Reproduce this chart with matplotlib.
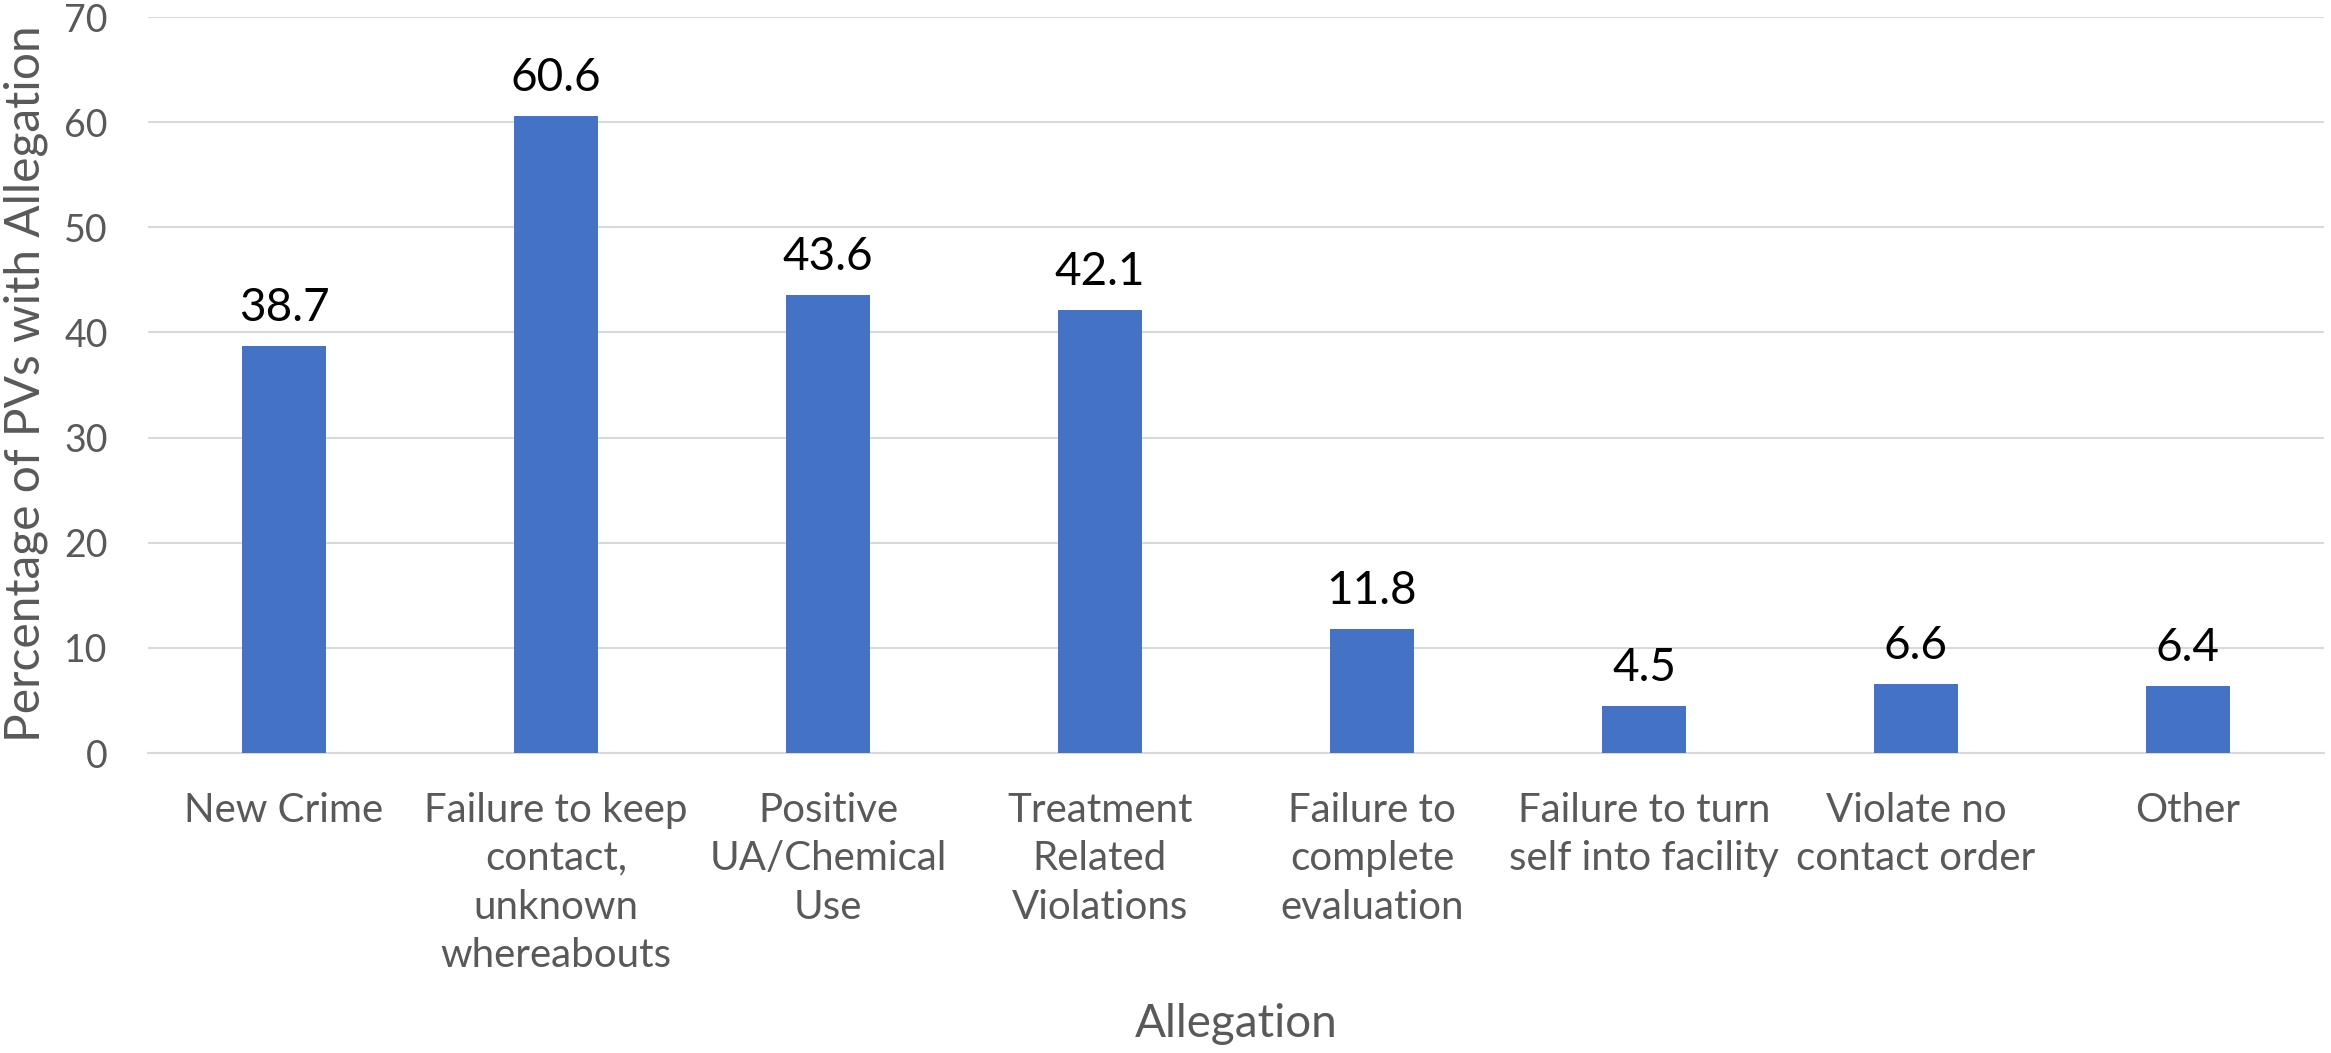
import matplotlib
matplotlib.use("Agg")
import matplotlib.pyplot as plt

categories = ["New Crime", "Failure to keep\ncontact,\nunknown\nwhereabouts",
              "Positive\nUA/Chemical\nUse", "Treatment\nRelated\nViolations",
              "Failure to\ncomplete\nevaluation", "Failure to turn\nself into facility",
              "Violate no\ncontact order", "Other"]
values = [38.7, 60.6, 43.6, 42.1, 11.8, 4.5, 6.6, 6.4]
yticks = [0, 10, 20, 30, 40, 50, 60, 70]

plt.rcParams['font.family'] = ['Lato', 'DejaVu Sans']
gray = "#595959"

W, H = 2331, 1053
fig = plt.figure(figsize=(W / 100, H / 100), dpi=100)
ax_left, ax_right, ax_top, ax_bottom = 148, 2324, 17, 753
ax = fig.add_axes([ax_left / W, 1 - ax_bottom / H, (ax_right - ax_left) / W,
                   (ax_bottom - ax_top) / H])
x = list(range(len(categories)))
ax.bar(x, values, width=0.31, color="#4472C4", zorder=3)
for xi, v in zip(x, values):
    ax.annotate(f"{v}", (xi, v), xytext=(0, 18), textcoords="offset points",
                ha="center", va="baseline", fontsize=33, color="black")
ax.set_xlim(-0.5, len(categories) - 0.5)
ax.set_ylim(0, 70)
ax.set_yticks(yticks)
ax.set_yticklabels([str(t) for t in yticks], fontsize=27, color=gray)
ax.set_xticks(x)
ax.set_xticklabels(categories, fontsize=29, color=gray, linespacing=1.38)
ax.tick_params(axis='both', length=0)
ax.tick_params(axis='x', pad=28)
ax.tick_params(axis='y', pad=29)
ax.grid(axis='y', color="#D9D9D9", linewidth=1.5, zorder=0)
for s in ["top", "right", "left"]:
    ax.spines[s].set_visible(False)
ax.spines["bottom"].set_color("#D9D9D9")
ax.spines["bottom"].set_linewidth(1.5)
fig.text(26 / W, 1 - 384 / H, "Percentage of PVs with Allegation", fontsize=34.5,
         color=gray, rotation=90, ha="center", va="center")
fig.text((ax_left + ax_right) / 2 / W, 1 - 1037 / H, "Allegation", fontsize=33,
         color=gray, ha="center", va="baseline")
fig.savefig("out.png", dpi=100)
